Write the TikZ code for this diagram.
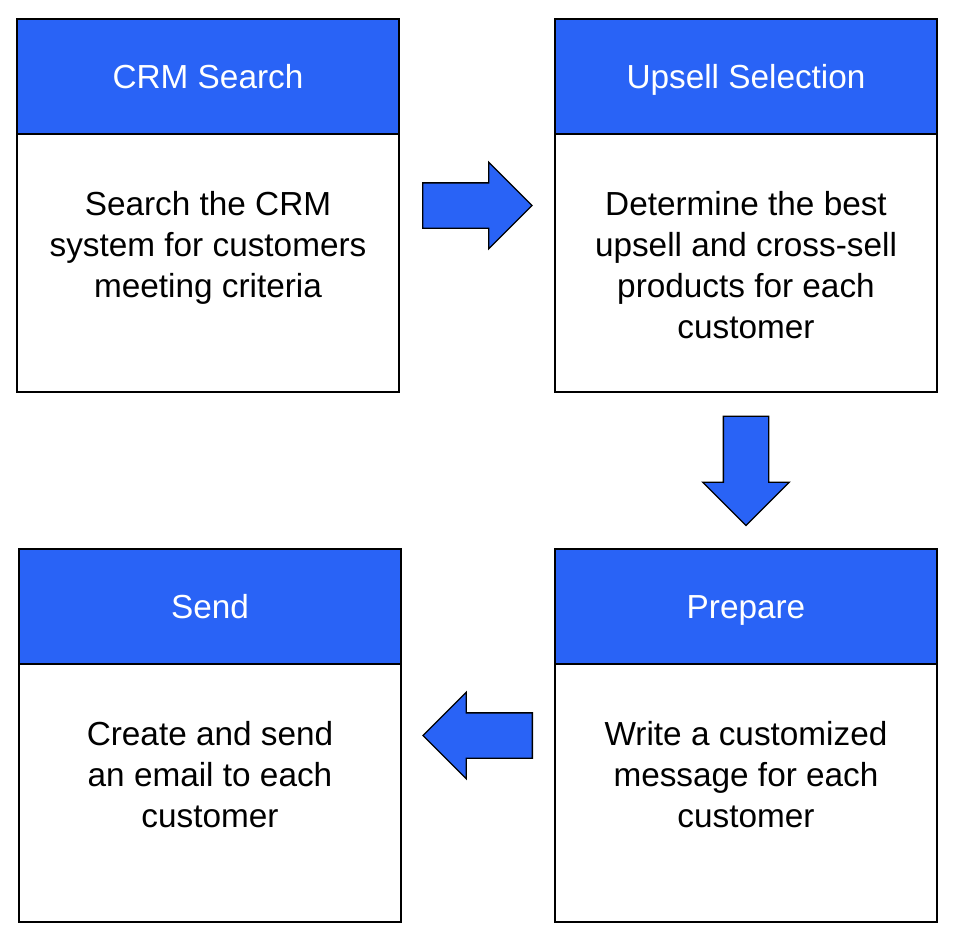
\documentclass[tikz,border=0pt]{standalone}
\usepackage{fontspec}
\setmainfont{Liberation Sans}
\usetikzlibrary{positioning,calc,shapes.arrows}

\definecolor{stepblue}{RGB}{41,99,246}

\begin{document}
\begin{tikzpicture}[x=0.75pt,y=-0.75pt,
    head/.style={draw,line width=1.2pt,fill=stepblue,text=white,outer sep=0pt,
      minimum width=286.5pt,minimum height=86.25pt,text height=18pt,text depth=0pt,
      font=\fontsize{25}{30.75}\selectfont},
    card/.style={draw,line width=1.2pt,fill=white,outer sep=0pt,
      minimum width=286.5pt,minimum height=193.5pt},
    cardtext/.style={align=center,inner sep=0pt,font=\fontsize{25}{30.75}\selectfont},
    blockarrow/.style={shape=single arrow,draw,line width=1pt,fill=stepblue,
      inner sep=16.5pt,minimum height=82pt,single arrow head extend=15.4pt,
      single arrow head indent=0pt}]
  \useasboundingbox (0,0) rectangle (960,946);
  % CRM search
  \node[head] (crmhead) at (208,76.5) {CRM Search};
  \node[card,below=0pt of crmhead] (crmbody) {};
  \node[cardtext,below=42.75pt of crmbody.north] (crmtext)
    {Search the CRM\\system for customers\\meeting criteria};
  % upsell selection
  \node[head] (upsellhead) at (746,76.5) {Upsell Selection};
  \node[card,below=0pt of upsellhead] (upsellbody) {};
  \node[cardtext,below=42.75pt of upsellbody.north] (upselltext)
    {Determine the best\\upsell and cross-sell\\products for each\\customer};
  % send
  \node[head] (sendhead) at (210,606.5) {Send};
  \node[card,below=0pt of sendhead] (sendbody) {};
  \node[cardtext,below=42.75pt of sendbody.north] (sendtext)
    {Create and send\\an email to each\\customer};
  % prepare
  \node[head] (preparehead) at (746,606.5) {Prepare};
  \node[card,below=0pt of preparehead] (preparebody) {};
  \node[cardtext,below=42.75pt of preparebody.north] (preparetext)
    {Write a customized\\message for each\\customer};
  % arrows between the steps
  \node[blockarrow,xshift=-8.25pt] (arrowright)
    at ($(crmhead.north east)!0.5!(upsellbody.south west)$) {};
  \node[blockarrow,shape border rotate=270,yshift=8.25pt] (arrowdown)
    at ($(upsellbody.south)!0.5!(preparehead.north)$) {};
  \node[blockarrow,shape border rotate=180,xshift=8.25pt] (arrowleft)
    at ($(sendhead.north east)!0.5!(preparebody.south west)$) {};
\end{tikzpicture}
\end{document}
